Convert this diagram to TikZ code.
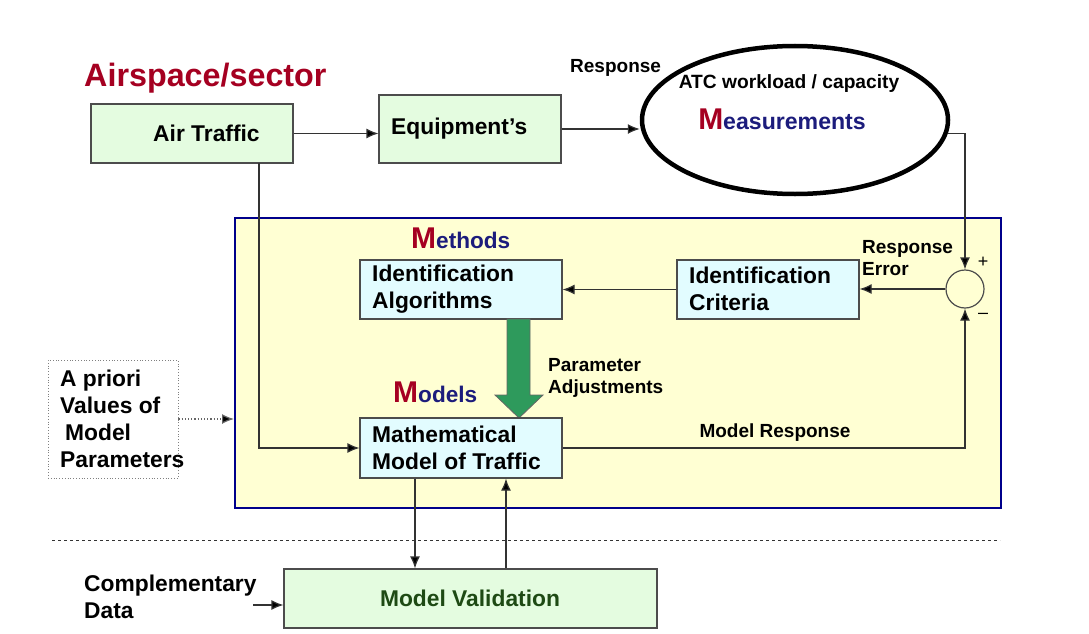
\documentclass[tikz,border=0pt]{standalone}
\usepackage{fontspec}
\setmainfont{Liberation Sans}
\usetikzlibrary{arrows.meta,positioning,shapes.geometric,calc}
\definecolor{ATCred}{HTML}{A50021}
\definecolor{ATCnavy}{HTML}{1C1C7C}
\definecolor{ATCgreen}{HTML}{E4FCE0}
\definecolor{ATCcyan}{HTML}{E2FCFF}
\definecolor{ATCyellow}{HTML}{FFFFD3}
\definecolor{ATCarrow}{HTML}{2E9A5C}
\definecolor{ATCdkgreen}{HTML}{1E4A14}
\definecolor{ATCframe}{HTML}{00008B}

\begin{document}
\begin{tikzpicture}[x=1pt,y=-1pt,
    box/.style={draw=black!70,line width=1.2pt,inner sep=0pt},
    lbl/.style={font=\fontsize{22.8}{27}\selectfont\bfseries,align=left,anchor=west,inner sep=0pt},
    sml/.style={font=\fontsize{19}{22}\selectfont\bfseries,align=left,anchor=west,inner sep=0pt},
    arr/.style={-{Latex[length=12pt,width=10pt,fill=black]},line width=1.2pt,draw=black!80}]
  \fill[white] (0,0) rectangle (1089,634);
  \useasboundingbox (0,0) rectangle (1089,634);

  % top row
  \node[lbl,font=\fontsize{32.3}{32}\selectfont\bfseries,ATCred] (sector) at (84,78) {Airspace/sector};
  \node[box,fill=ATCgreen,minimum width=202,minimum height=59] (air) at (192,133.5) {};
  \node[lbl] (airT) at (153,133) {Air Traffic};
  \node[box,fill=ATCgreen,minimum width=182,minimum height=68] (equip) at (470,129) {};
  \node[lbl] (equipT) at (391,129) {Equipment's};
  \node[sml] (respT) at (570,68) {Response};
  \node[draw=black,line width=4.5pt,ellipse,minimum width=306,minimum height=148] (meas) at (795,120) {};
  \node[font=\fontsize{19.2}{20}\selectfont\bfseries,inner sep=0pt] (atcT) at (789,84) {ATC workload / capacity};
  \node[font=\fontsize{23.1}{24}\selectfont\bfseries,ATCnavy,inner sep=0pt] (measT) at (782,119)
    {\textcolor{ATCred}{\fontsize{30}{30}\selectfont M}easurements};

  % identification loop
  \node[draw=ATCframe,line width=2pt,fill=ATCyellow,minimum width=766,minimum height=290] (frame) at (618,363) {};
  \node[draw=black!70,line width=1.2pt,circle,fill=ATCyellow,minimum size=38] (sum) at (965,289) {};
  \node[font=\fontsize{18}{18}\selectfont,inner sep=0pt] (plus) at (983,262) {+};
  \node[font=\fontsize{18}{18}\selectfont,inner sep=0pt] (minus) at (983,316) {--};
  \node[sml] (errT) at (862,258) {Response\\Error};
  \node[box,fill=ATCcyan,minimum width=182,minimum height=59] (crit) at (768,289.5) {};
  \node[lbl] (critT) at (689,289) {Identification\\Criteria};
  \node[box,fill=ATCcyan,minimum width=202,minimum height=59] (algo) at (461,289.5) {};
  \node[lbl] (algoT) at (372,289) {Identification\\Algorithms};
  \node[lbl,font=\fontsize{22.6}{22}\selectfont\bfseries,ATCnavy] (methT) at (411,238)
    {\textcolor{ATCred}{\fontsize{30}{30}\selectfont M}ethods};
  \fill[ATCarrow,draw=black!60,line width=0.8pt] (507,319) -- (530,319) -- (530,395) -- (543,395)
    -- (519,418) -- (495,395) -- (507,395) -- cycle;
  \node[sml] (adjT) at (548,378) {Parameter\\Adjustments};
  \node[lbl,font=\fontsize{22.6}{22}\selectfont\bfseries,ATCnavy] (modT) at (393,392)
    {\textcolor{ATCred}{\fontsize{30}{30}\selectfont M}odels};
  \node[box,fill=ATCcyan,minimum width=202,minimum height=60] (math) at (461,448) {};
  \node[lbl] (mathT) at (372,448) {Mathematical\\Model of Traffic};
  \node[sml,anchor=center] (mrT) at (775,433) {Model Response};

  % a priori values
  \node[draw=black!50,dotted,line width=0.8pt,fill=white,minimum width=130,minimum height=118] (apriori) at (113,419) {};
  \node[lbl] (aprioriT) at (60,419) {A priori\\Values of\\\hspace{5pt}Model\\Parameters};

  % validation
  \draw[dashed,line width=0.8pt,black!80] (52,540) coordinate (sepL) -- (1000,540) coordinate (sepR);
  \node[box,fill=ATCgreen,minimum width=373,minimum height=59] (valid) at (470.5,598.5) {};
  \node[lbl,anchor=center,ATCdkgreen] (validT) at (470,598) {Model Validation};
  \node[lbl] (compT) at (84,597) {Complementary\\Data};

  % connectors
  \coordinate (airdrop) at (259,163);
  \coordinate (cin) at (253,605);
  \draw[arr] (air.east) -- (air.east -| equip.west);
  \draw[arr] (equip.east) -- (equip.east -| meas.west);
  \draw[arr] (meas.-5) -| (sum.north);
  \draw[arr] (sum.west) -- (sum.west -| crit.east);
  \draw[arr] (crit.west) -- (crit.west -| algo.east);
  \draw[arr] (math.east) -| (sum.south);
  \draw[arr] (airdrop) |- (math.west);
  \draw[arr,dotted,draw=black!60] (apriori.east) -- (apriori.east -| frame.west);
  \draw[arr] ([xshift=-46pt]math.south) -- ([xshift=-46pt]math.south |- valid.north);
  \draw[arr] ([xshift=45pt]math.south |- valid.north) -- ([xshift=45pt]math.south);
  \draw[arr] (cin) -- (cin -| valid.west);
\end{tikzpicture}
\end{document}
